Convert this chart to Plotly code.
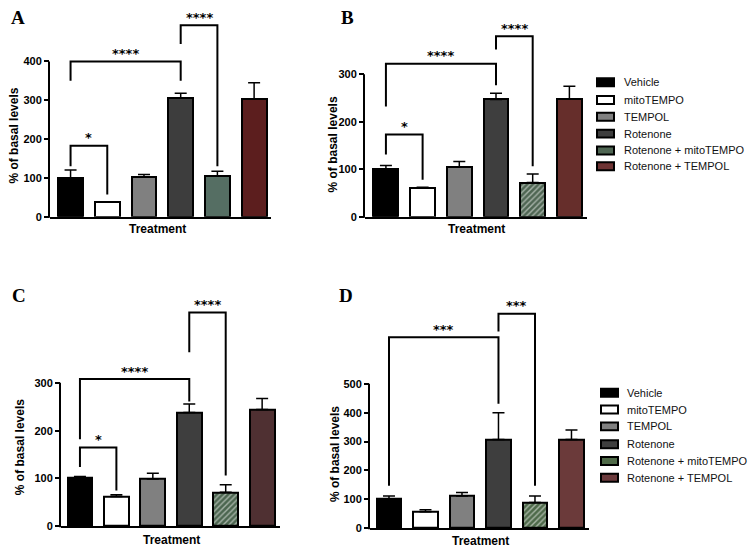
import plotly.graph_objects as go

# ---------------- data ----------------
categories = ["Vehicle", "mitoTEMPO", "TEMPOL", "Rotenone",
              "Rotenone + mitoTEMPO", "Rotenone + TEMPOL"]

a_means = [100, 37, 102, 305, 104, 303]
a_err = [20, 0, 7, 13, 13, 42]
b_means = [101, 60, 104, 247, 72, 248]
b_err = [7, 2, 12, 13, 18, 27]
c_means = [101, 62, 99, 238, 71, 244]
c_err = [3, 4, 12, 18, 16, 23]
d_means = [102, 57, 112, 307, 89, 307]
d_err = [10, 7, 12, 93, 23, 33]

y_ticks_a = [0, 100, 200, 300, 400]
y_ticks_b = [0, 100, 200, 300]
y_ticks_c = [0, 100, 200, 300]
y_ticks_d = [0, 100, 200, 300, 400, 500]

# brackets: (group i, group j, left leg bottom, top, right leg bottom, label)
a_brackets = [(0, 3, 350, 400, 350, "****"), (0, 1, 130, 183, 57, "*"), (3, 4, 445, 493, 130, "****")]
b_brackets = [(0, 3, 232, 322, 277, "****"), (0, 1, 131, 173, 78, "*"), (3, 4, 352, 380, 106, "****")]
c_brackets = [(0, 3, 182, 308, 261, "****"), (0, 1, 124, 165, 75, "*"), (3, 4, 364, 447, 106, "****")]
d_brackets = [(0, 3, 147, 661, 431, "***"), (3, 4, 681, 743, 147, "***")]

panel_letters = ["A", "B", "C", "D"]
y_title = "% of basal levels"
x_title = "Treatment"

# ---------------- styles ----------------
OFF = 8  # page body margin of the browser
W, H = 756 - OFF, 556 - OFF
colors_a = ["#000000", "#ffffff", "#808080", "#3d3d3d", "#556e63", "#5c1e1e"]
colors_b = ["#000000", "#ffffff", "#808080", "#3e3e3e", "#4f6653", "#662e2b"]
colors_c = ["#000000", "#ffffff", "#808080", "#3e3e3e", "#4c6650", "#4f3032"]
colors_d = ["#000000", "#ffffff", "#808080", "#3e3e3e", "#4e6a4a", "#6b3a3a"]
legend1_colors = ["#000000", "#ffffff", "#808080", "#3e3e3e", "#4f6653", "#6e3333"]
legend2_colors = ["#000000", "#ffffff", "#808080", "#3e3e3e", "#4f6a48", "#6b3a3c"]

SANS = "Liberation Sans, Arial, sans-serif"
SERIF = "Liberation Serif, Times New Roman, serif"


def px(x):
    return (x - OFF) / W


def py(y):
    return 1 - (y - OFF) / H


panels = [
    dict(means=a_means, err=a_err, ticks=y_ticks_a, br=a_brackets, colors=colors_a, hatch=False,
         xl=50, xr=271, y0=219, yt=62, top=10, rng=(-0.56, 5.46),
         letter=(18, 18), ytitle=(14, 137), xtitle=(157, 231)),
    dict(means=b_means, err=b_err, ticks=y_ticks_b, br=b_brackets, colors=colors_b, hatch=True,
         xl=365, xr=587, y0=219, yt=75, top=10, rng=(-0.57, 5.48),
         letter=(347, 18), ytitle=(333, 146), xtitle=(477, 231)),
    dict(means=c_means, err=c_err, ticks=y_ticks_c, br=c_brackets, colors=colors_c, hatch=True,
         xl=61, xr=280, y0=532, yt=387, top=300, rng=(-0.52, 5.49),
         letter=(19, 299), ytitle=(20, 452), xtitle=(171, 546)),
    dict(means=d_means, err=d_err, ticks=y_ticks_d, br=d_brackets, colors=colors_d, hatch=True,
         xl=370, xr=589, y0=534, yt=388, top=300, rng=(-0.52, 5.48),
         letter=(346, 299), ytitle=(335, 459), xtitle=(480, 547)),
]

fig = go.Figure()
annotations = []
shapes = []
layout_axes = {}

for n, p in enumerate(panels):
    idx = "" if n == 0 else str(n + 1)
    xa, ya = "x" + idx, "y" + idx
    ymax = p["ticks"][-1]
    rmax = ymax * (p["y0"] - p["top"]) / (p["y0"] - p["yt"])
    shapes_pattern = ["", "", "", "", "/" if p["hatch"] else "", ""]
    fig.add_trace(go.Bar(
        x=list(range(len(categories))), y=p["means"], width=0.68,
        xaxis=xa, yaxis=ya,
        marker=dict(color=p["colors"], line=dict(color="black", width=2),
                    pattern=dict(shape=shapes_pattern, fgcolor="#62806a", size=4,
                                 solidity=0.35, fillmode="overlay")),
        error_y=dict(type="data", symmetric=False, array=p["err"],
                     arrayminus=[0] * len(p["err"]), color="black",
                     thickness=1.5, width=6),
        showlegend=False, hoverinfo="skip", cliponaxis=False,
    ))
    for (i, j, lb, top, rb, lab) in p["br"]:
        fig.add_trace(go.Scatter(
            x=[i, i, j, j], y=[lb, top, top, rb], mode="lines",
            line=dict(color="black", width=2), xaxis=xa, yaxis=ya,
            showlegend=False, hoverinfo="skip", cliponaxis=False,
        ))
        annotations.append(dict(
            x=(i + j) / 2, y=top, xref=xa, yref=ya, text=lab, showarrow=False,
            yanchor="middle", yshift=8,
            font=dict(family="DejaVu Sans", size=13, color="black", weight="bold"),
        ))
    layout_axes["xaxis" + idx] = dict(
        domain=[px(p["xl"]), px(p["xr"])], range=list(p["rng"]), anchor=ya,
        showline=True, linecolor="black", linewidth=2, showticklabels=False,
        ticks="", showgrid=False, zeroline=False, fixedrange=True,
    )
    layout_axes["yaxis" + idx] = dict(
        domain=[py(p["y0"]), py(p["top"])], range=[0, rmax], anchor=xa,
        showline=False, ticks="outside",
        ticklen=5, tickwidth=2, tickcolor="black", tickvals=p["ticks"],
        ticktext=[str(t) for t in p["ticks"]], showgrid=False, zeroline=False,
        tickfont=dict(family=SANS, size=11, color="black", weight="bold"),
        fixedrange=True,
    )
    # y axis line from 0 up to the top tick only
    shapes.append(dict(
        type="line", xref="paper", yref="paper",
        x0=px(p["xl"]) - 1 / W, x1=px(p["xl"]) - 1 / W, y0=py(p["y0"] + 1), y1=py(p["yt"]),
        line=dict(color="black", width=2),
    ))
    lx, ly = p["letter"]
    annotations.append(dict(
        x=px(lx), y=py(ly), xref="paper", yref="paper", text=panel_letters[n],
        showarrow=False, xanchor="center", yanchor="middle",
        font=dict(family=SERIF, size=19, color="black", weight="bold"),
    ))
    tx, ty = p["ytitle"]
    annotations.append(dict(
        x=px(tx), y=py(ty), xref="paper", yref="paper", text=y_title, textangle=-90,
        showarrow=False, xanchor="center", yanchor="middle",
        font=dict(family=SANS, size=12, color="black", weight="bold"),
    ))
    tx, ty = p["xtitle"]
    annotations.append(dict(
        x=px(tx), y=py(ty), xref="paper", yref="paper", text=x_title,
        showarrow=False, xanchor="center", yanchor="middle",
        font=dict(family=SANS, size=12, color="black", weight="bold"),
    ))

# manual legends
legends = [
    dict(colors=legend1_colors, sx=597, tx=622, rows=[83, 101, 118, 135, 152, 168]),
    dict(colors=legend2_colors, sx=601, tx=625, rows=[397, 414, 431, 449, 466, 483]),
]
for lg in legends:
    for k, name in enumerate(categories):
        yc = lg["rows"][k]
        shapes.append(dict(
            type="rect", xref="paper", yref="paper",
            x0=px(lg["sx"]), x1=px(lg["sx"] + 17), y0=py(yc + 4), y1=py(yc - 4),
            fillcolor=lg["colors"][k], line=dict(color="black", width=2),
        ))
        annotations.append(dict(
            x=px(lg["tx"]), y=py(yc), xref="paper", yref="paper", text=name,
            showarrow=False, xanchor="left", yanchor="middle",
            font=dict(family=SANS, size=11, color="#111111"),
        ))

fig.update_layout(
    width=W, height=H, margin=dict(l=0, r=0, t=0, b=0),
    paper_bgcolor="white", plot_bgcolor="rgba(0,0,0,0)",
    showlegend=False, bargap=0, annotations=annotations, shapes=shapes,
    **layout_axes,
)

fig.write_html("out.html")
